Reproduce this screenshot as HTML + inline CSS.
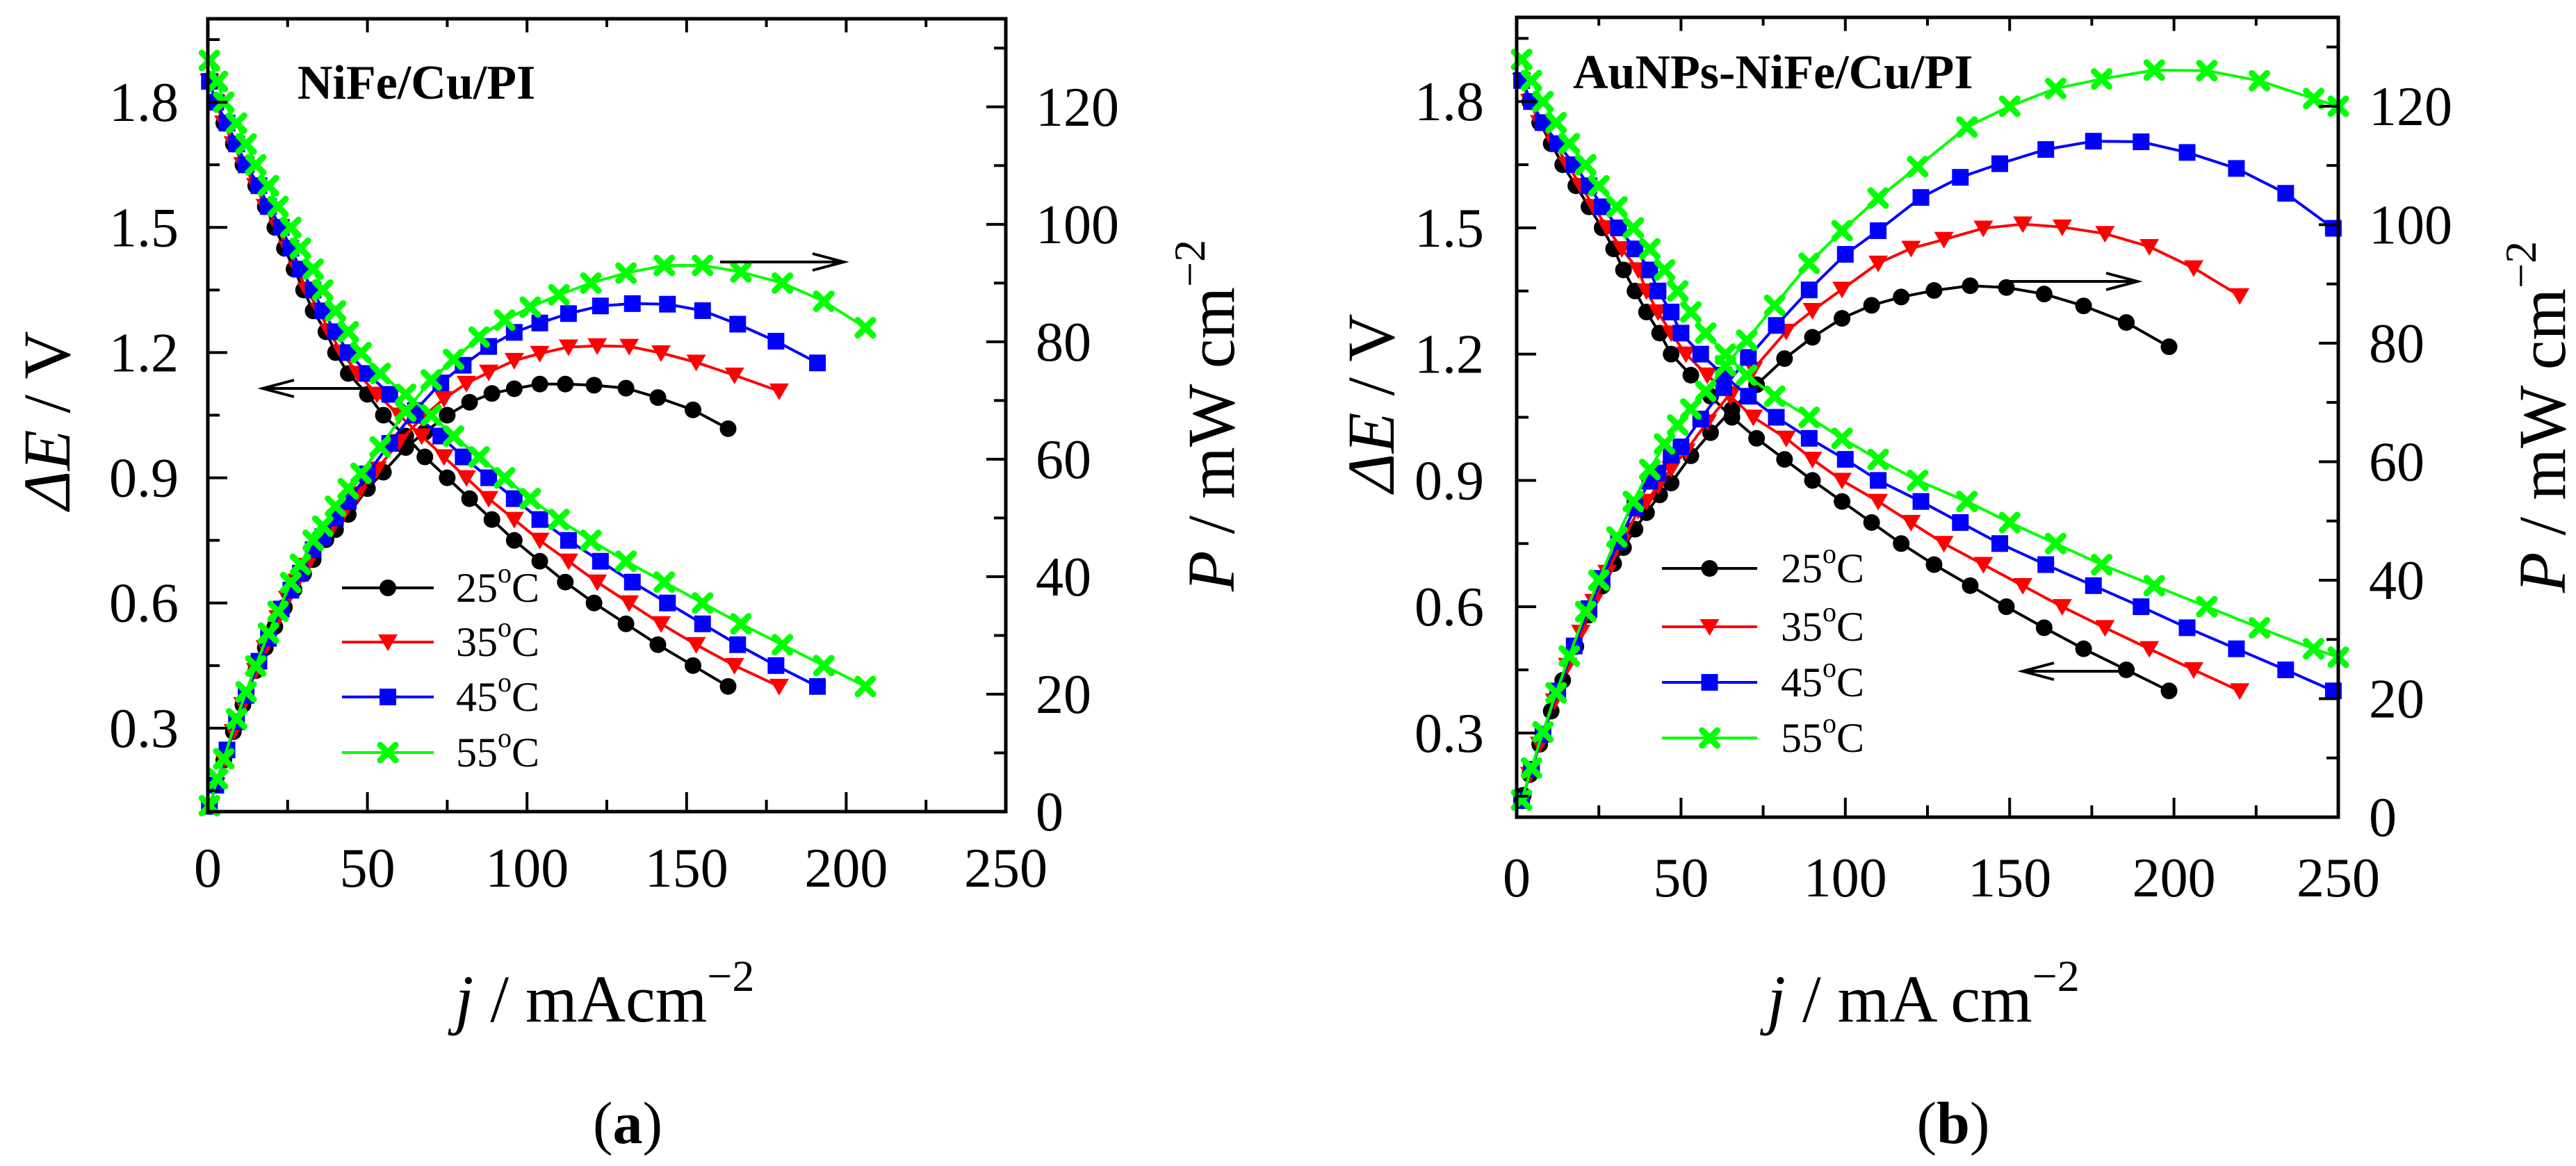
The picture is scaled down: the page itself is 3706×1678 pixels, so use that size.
<!DOCTYPE html>
<html><head><meta charset="utf-8"><style>
html,body{margin:0;padding:0;background:#fff;}
svg, svg text{font-family:"Liberation Serif","Times New Roman",serif;}
</style></head><body>
<svg id="fig" width="3706" height="1673" viewBox="0 0 3706 1673" xmlns="http://www.w3.org/2000/svg" font-family="Liberation Serif, serif"></svg>
<script>
// ---------- Panel (a) NiFe/Cu/PI ----------
const eLevels = [1.85,1.8,1.75,1.7,1.65,1.6,1.55,1.5,1.45,1.4,1.35,1.3,1.25,1.2,1.15,1.1,1.05,1.0,0.95,0.9,0.85,0.8,0.75,0.7,0.65,0.6,0.55,0.5,0.45,0.4];
const eLevels55a = [1.9,1.85,1.8,1.75,1.7,1.65,1.6,1.55,1.5,1.45,1.4,1.35,1.3,1.25,1.2,1.15,1.1,1.05,1.0,0.95,0.9,0.85,0.8,0.75,0.7,0.65,0.6,0.55,0.5,0.45,0.4];
const eLevels55b = [1.9,1.85,1.8,1.75,1.7,1.65,1.6,1.55,1.5,1.45,1.4,1.35,1.3,1.25,1.2,1.15,1.1,1.05,1.0,0.95,0.9,0.85,0.8,0.75,0.7,0.65,0.6,0.55,0.5,0.48];

const aJ25 = [0.5,2.5,5,8,11,15,18,21,24,27,30,33,37,40,44,50,55,62,68,75,82,89,96,104,112,121,131,141,152,163];
const aP25 = [0.9,4.5,8.8,13.6,18.2,24,27.9,31.5,34.8,37.8,40.5,42.9,46.3,48,50.6,55,57.8,62,64.6,67.5,69.7,71.2,72,72.8,72.8,72.6,72.1,70.5,68.4,65.2];
const aJ35 = [0.5,2.5,5,8,11,15,18,22,25,28,31,35,38,42,47,53,60,67,74,81,88,96,104,113,122,132,142,153,165,179];
const aP35 = [0.9,4.5,8.8,13.6,18.2,24,27.9,33,36.3,39.2,41.9,45.5,47.5,50.4,54.1,58.3,63,67,70.3,72.9,74.8,76.8,78,79.1,79.3,79.2,78.1,76.5,74.3,71.6];
const aJ45 = [0.5,2.5,6,9,12,16,19,23,26,29,33,36,40,44,50,57,65,73,80,88,96,104,113,123,133,144,155,166,178,191];
const aP45 = [0.9,4.5,10.5,15.3,19.8,25.6,29.5,34.5,37.7,40.6,44.6,46.8,50,52.8,57.5,62.7,68.3,73,76,79.2,81.6,83.2,84.8,86.1,86.5,86.4,85.3,83,80.1,76.4];
const aJ55 = [0.5,3,5,9,12,15,19,22,26,29,33,36,40,44,48,54,62,70,77,85,93,101,110,120,131,143,155,167,180,193,206];
const aP55 = [1,5.6,9,15.8,20.4,24.8,30.4,34.1,39,42.1,46.2,48.6,52,55,57.6,62.1,68.2,73.5,77,80.8,83.7,85.9,88,90,91.7,93,93,91.9,90,86.9,82.4];

// ---------- Panel (b) AuNPs-NiFe/Cu/PI ----------
const bJ25 = [2,4,7,10.5,14,18,22,26,29.5,32.5,36,39.5,43.5,47,53,59,65.5,73,81.5,90,99,108,117,127,138,149,160.5,172.5,185.5,198.5];
const bP25 = [3.7,7.2,12.3,17.9,23.1,28.8,34.1,39,42.8,45.5,48.6,51.4,54.4,56.4,61,64.9,68.8,73,77.4,81,84.2,86.4,87.8,88.9,89.7,89.4,88.3,86.3,83.5,79.4];
const bJ35 = [1.5,4,7,11.5,15.5,19.5,23.5,27.5,32,37,39.5,43,47,51.5,58,65,72,82,90,99,110,120,130,142,154,166,179,192.5,206,220];
const bP35 = [2.8,7.2,12.3,19.6,25.6,31.2,36.4,41.3,46.4,51.8,53.3,55.9,58.8,61.8,66.7,71.5,75.6,82,85.5,89.1,93.5,96,97.5,99.4,100.1,99.6,98.5,96.3,92.7,88];
const bJ45 = [1.5,4.5,8,12.5,17.5,22,26,31,36,40.5,43,47,50,56,63,70.5,79,89,100,110,123,135,147,161,175.5,190,204,219,234,248.5];
const bP45 = [2.8,8.1,14,21.3,28.9,35.2,40.3,46.5,52.2,56.7,58.1,61.1,62.5,67.2,72.5,77.6,83,89,95,99,104.6,108,110.3,112.7,114.1,114,112.2,109.5,105.3,99.4];
const bJ55 = [1.5,4.5,8,12,16,21,25,30.5,35.5,40.5,45,49,53,57.5,63.5,70,78.5,89,99,110,122,137,150,164,178,194,210,226,242.5,250];
const bP55 = [2.9,8.3,14.4,21,27.2,34.7,40,47.3,53.3,58.7,63,66.2,68.9,71.9,76.2,80.5,86.4,93.5,99,104.5,109.8,116.5,120,123,124.6,126.1,126,124.3,121.3,120];

const xTicks = [0,50,100,150,200,250];
const eTicks = [0.3,0.6,0.9,1.2,1.5,1.8];
const pTicks = [0,20,40,60,80,100,120];
const legendLabels = ["25","35","45","55"];

const NS = "http://www.w3.org/2000/svg";
const svg = document.getElementById('fig');
const FONT = 'Liberation Serif, serif';
function el(tag, attrs, parent){
  const e = document.createElementNS(NS, tag);
  for (const k in attrs) e.setAttribute(k, attrs[k]);
  if (tag==='text') e.setAttribute('font-family', FONT);
  (parent||svg).appendChild(e);
  return e;
}
const colors = ['#000000','#ff0000','#0000ff','#00ff00'];
const kinds = ['circle','tri','square','x'];

function marker(g, kind, color, x, y){
  let m;
  if (kind==='circle') m = el('circle',{cx:x,cy:y,r:12,fill:color},g);
  else if (kind==='square') m = el('rect',{x:x-12,y:y-12,width:24,height:24,fill:color},g);
  else if (kind==='tri') m = el('polygon',{points:`${x-14},${y-11} ${x+14},${y-11} ${x},${y+13}`,fill:color},g);
  else {
    m = el('path',{d:`M${x-11},${y-11}L${x+11},${y+11}M${x+11},${y-11}L${x-11},${y+11}`,stroke:color,'stroke-width':9,'stroke-linecap':'round',fill:'none'},g);
  }
  return m;
}

function drawPanel(p){
  const g = el('g',{});
  
  
  const X = j => p.x0 + (j/250)*(p.x1-p.x0);
  const YE = e => p.y1 - (e-0.1)/1.9*(p.y1-p.y0);
  const YP = v => p.y1 - v/135*(p.y1-p.y0);

  p.series.forEach((s,i)=>{
    const sg = el('g',{},g);
    
    
    const ptsE = s.j.map((j,k)=>[X(j),YE(s.e[k])]);
    const ptsP = s.j.map((j,k)=>[X(j),YP(s.p[k])]);
    const lE = el('polyline',{points:ptsE.map(q=>q.join(',')).join(' '),fill:'none',stroke:colors[i],'stroke-width':4,'stroke-linejoin':'round'},sg);
    
    
    const lP = el('polyline',{points:ptsP.map(q=>q.join(',')).join(' '),fill:'none',stroke:colors[i],'stroke-width':4,'stroke-linejoin':'round'},sg);
    
    
    ptsE.forEach(q=>{ const m=marker(sg,kinds[i],colors[i],q[0],q[1]);
      
       });
    ptsP.forEach(q=>{ const m=marker(sg,kinds[i],colors[i],q[0],q[1]);
      
       });
  });

  const fr = el('rect',{x:p.x0,y:p.y0,width:p.x1-p.x0,height:p.y1-p.y0,fill:'none',stroke:'#000','stroke-width':5},g);
  
  

  for (let j=0;j<=250;j+=25){
    const x=X(j), L=(j%50===0)?28:17;
    el('line',{x1:x,y1:p.y1,x2:x,y2:p.y1-L,stroke:'#000','stroke-width':4},g);
    el('line',{x1:x,y1:p.y0,x2:x,y2:p.y0+L*0.7,stroke:'#000','stroke-width':4},g);
  }
  xTicks.forEach(v=>{
    const t=el('text',{x:X(v),y:p.xLabY,'font-size':80,'text-anchor':'middle'},g);
    t.textContent=v;
    
    
  });
  for (let k=0;k<=12;k++){
    const e=0.15+k*0.15; if (e>2.0) break;
    const y=YE(e), maj=(Math.round(e*100)%30===0);
    el('line',{x1:p.x0,y1:y,x2:p.x0+(maj?28:17),y2:y,stroke:'#000','stroke-width':4},g);
  }
  eTicks.forEach(v=>{
    const t=el('text',{x:p.eLabX,y:YE(v)+27,'font-size':80,'text-anchor':'end'},g);
    t.textContent=v.toFixed(1);
    
    
  });
  for (let v=0;v<=130;v+=10){
    const y=YP(v);
    el('line',{x1:p.x1,y1:y,x2:p.x1-(v%20===0?28:17),y2:y,stroke:'#000','stroke-width':4},g);
  }
  pTicks.forEach(v=>{
    const t=el('text',{x:p.pLabX,y:YP(v)+27,'font-size':80,'text-anchor':'start'},g);
    t.textContent=v;
    
    
  });

  const te=el('text',{x:p.eTitX,y:p.eTitY,'font-size':96,'text-anchor':'middle',transform:`rotate(-90 ${p.eTitX} ${p.eTitY})`},g);
  te.innerHTML='<tspan font-style="italic">ΔE</tspan> / V';
  
  
  const tp=el('text',{x:p.pTitX,y:p.pTitY,'font-size':96,'text-anchor':'middle',transform:`rotate(-90 ${p.pTitX} ${p.pTitY})`},g);
  tp.innerHTML='<tspan font-style="italic">P</tspan> / mW cm<tspan font-size="64" dy="-42">−2</tspan>';
  
  
  const tx=el('text',{x:p.xTitX,y:1470,'font-size':96,'text-anchor':'middle'},g);
  tx.innerHTML='<tspan font-style="italic">j</tspan> / '+p.unit+'<tspan font-size="64" dy="-44">−2</tspan>';
  
  
  const tl=el('text',{x:p.tagX,y:1645,'font-size':86,'text-anchor':'middle'},g);
  tl.innerHTML='(<tspan font-weight="bold">'+p.tag+'</tspan>)';
  
  
  const tt=el('text',{x:p.titX,y:p.titY,'font-size':70,'font-weight':'bold'},g);
  tt.textContent=p.title;
  
  

  p.leg.ys.forEach((y,i)=>{
    const lg=el('g',{},g);
    
    
    el('line',{x1:p.leg.x1,y1:y,x2:p.leg.x2,y2:y,stroke:colors[i],'stroke-width':4},lg);
    marker(lg,kinds[i],colors[i],(p.leg.x1+p.leg.x2)/2,y);
    const t=el('text',{x:p.leg.tx,y:y+20,'font-size':60},lg);
    t.innerHTML=legendLabels[i]+'<tspan font-size="40" dy="-28">o</tspan><tspan dy="28">C</tspan>';
  });

  p.arrows.forEach(a=>{
    const ag=el('g',{},g);
    
    
    el('line',{x1:a[0],y1:a[2],x2:a[1],y2:a[2],stroke:'#000','stroke-width':4},ag);
    const d=a[1]>a[0]?1:-1;
    el('path',{d:`M${a[1]-d*45},${a[2]-12} L${a[1]},${a[2]} L${a[1]-d*45},${a[2]+12}`,fill:'none',stroke:'#000','stroke-width':4},ag);
  });
}

drawPanel({
  name:'panel-a', x0:299, x1:1447, y0:27, y1:1168, xLabY:1276, eLabX:257, pLabX:1490,
  eTitX:100, eTitY:605, pTitX:1775, pTitY:598, xTitX:870, unit:'mAcm', tag:'a', tagX:903,
  title:'NiFe/Cu/PI', titX:428, titY:142,
  leg:{x1:492,x2:624,tx:656,ys:[846,924,1003,1083]},
  arrows:[[523,378,559],[1036,1214,377]],
  series:[{j:aJ25,e:eLevels,p:aP25},{j:aJ35,e:eLevels,p:aP35},{j:aJ45,e:eLevels,p:aP45},{j:aJ55,e:eLevels55a,p:aP55}]
});
drawPanel({
  name:'panel-b', x0:2182, x1:3364, y0:25, y1:1176, xLabY:1290, eLabX:2135, pLabX:3408,
  eTitX:2005, eTitY:580, pTitX:3690, pTitY:600, xTitX:2767, unit:'mA cm', tag:'b', tagX:2810,
  title:'AuNPs-NiFe/Cu/PI', titX:2263, titY:127,
  leg:{x1:2391,x2:2528,tx:2562,ys:[818,902,982,1062]},
  arrows:[[2887,3075,405],[3056,2910,966]],
  series:[{j:bJ25,e:eLevels,p:bP25},{j:bJ35,e:eLevels,p:bP35},{j:bJ45,e:eLevels,p:bP45},{j:bJ55,e:eLevels55b,p:bP55}]
});
</script>
</body></html>
